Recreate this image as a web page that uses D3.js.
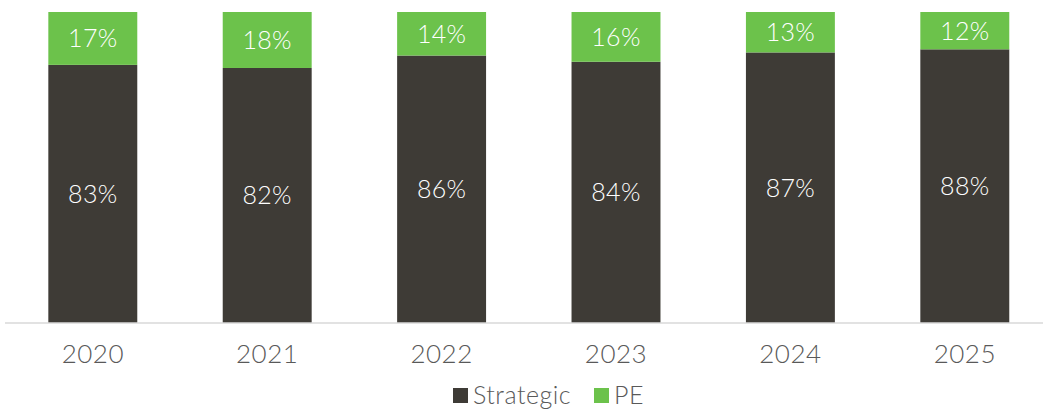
<!DOCTYPE html>
<html><head><meta charset="utf-8">
<script src="https://cdn.jsdelivr.net/npm/d3@7"></script>
<style>
html,body{margin:0;padding:0;background:#fff;}
svg text{font-family:Lato,"Open Sans",sans-serif;font-weight:300;}
</style></head>
<body><svg id="c" width="1043" height="410"></svg>
<script>
const years = ["2020","2021","2022","2023","2024","2025"];
const strategic = [83,82,86,84,87,88];
const pe = [17,18,14,16,13,12];
const seriesNames = ["Strategic","PE"];
const colors = ["#3e3b36","#6cc24b"];

const data = years.map((y,i)=>({year:y, Strategic:strategic[i], PE:pe[i]}));
const stack = d3.stack().keys(seriesNames).offset(d3.stackOffsetExpand)(data);

const svg = d3.select("#c");
const x = d3.scaleBand().domain(years).range([5.6,1052]).paddingInner(0.49).paddingOuter(0.245);
const y = d3.scaleLinear().domain([0,1]).range([323,12]);

svg.append("g").selectAll("g").data(stack).join("g")
  .attr("fill",(d,i)=>colors[i])
  .selectAll("rect").data(d=>d).join("rect")
  .attr("x",d=>x(d.data.year)).attr("width",x.bandwidth())
  .attr("y",d=>y(d[1])).attr("height",d=>y(d[0])-y(d[1]));

svg.append("g").selectAll("g").data(stack).join("g")
  .selectAll("text").data((s)=>s.map(d=>({d,key:s.key}))).join("text")
  .attr("x",o=>x(o.d.data.year)+x.bandwidth()/2)
  .attr("y",o=>(y(o.d[0])+y(o.d[1]))/2)
  .attr("dy","0.36em").attr("text-anchor","middle")
  .attr("fill","#ffffff").style("font-size","25px").style("letter-spacing","0.3px")
  .text(o=>o.d.data[o.key]+"%");

const ax = svg.append("g").attr("transform","translate(0,323)")
  .call(d3.axisBottom(x).tickSize(0).tickPadding(22));
ax.select(".domain").attr("stroke","#d9d9d9").attr("stroke-width",1.5).attr("d","M5,0H1043");
ax.selectAll("text").attr("fill","#595959").style("font-size","26px").style("letter-spacing","0.5px").attr("font-family",null);

const leg = svg.append("g");
const legItems = [{name:"Strategic",x:453,color:colors[0]},{name:"PE",x:594,color:colors[1]}];
legItems.forEach(it=>{
  leg.append("rect").attr("x",it.x).attr("y",388).attr("width",15).attr("height",15).attr("fill",it.color);
  leg.append("text").attr("x",it.x+20).attr("y",404).attr("fill","#595959").style("font-size","25px").style("letter-spacing","0.5px").text(it.name);
});
</script></body></html>
